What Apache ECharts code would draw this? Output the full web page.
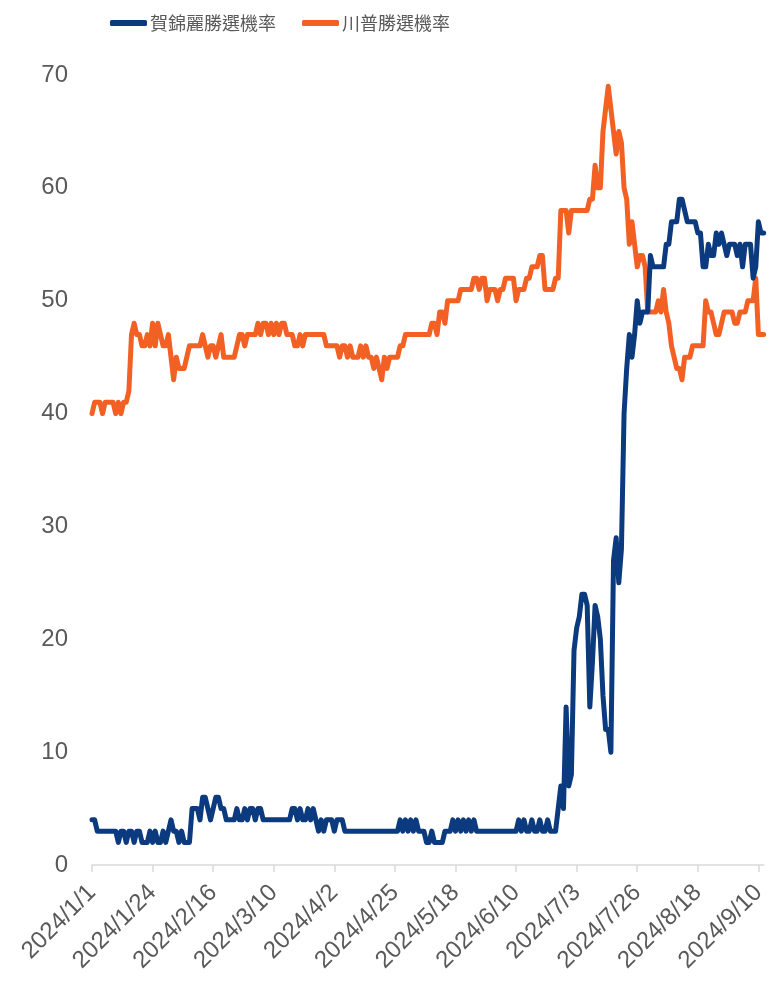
<!DOCTYPE html>
<html>
<head>
<meta charset="utf-8">
<script src="https://cdn.jsdelivr.net/npm/echarts@6/dist/echarts.min.js"></script>
<style>
html,body{margin:0;padding:0;background:#fff;}
#main{width:769px;height:983px;}
</style>
</head>
<body>
<div id="main"></div>
<script>
// Daily dates 2024/1/1 .. 2024/9/12
const startDate = [2024, 1, 1];
const dayCount = 256;
const seriesNames = ['賀錦麗勝選機率', '川普勝選機率'];
const yTicks = [0, 10, 20, 30, 40, 50, 60, 70];

const harris = [
  4,4,3,3,3,3,3,3,3,3,
  2,3,3,2,3,3,2,3,3,2,
  2,2,3,2,3,2,2,3,2,3,
  4,3,3,2,3,2,2,2,5,5,
  5,4,6,6,5,4,5,6,6,5,
  5,4,4,4,4,5,4,4,5,4,
  5,5,4,5,5,4,4,4,4,4,
  4,4,4,4,4,4,5,5,4,5,
  4,4,5,4,5,4,3,4,3,4,
  4,4,3,4,4,4,3,3,3,3,
  3,3,3,3,3,3,3,3,3,3,
  3,3,3,3,3,3,3,4,3,4,
  3,4,3,4,3,3,3,2,2,3,
  2,2,2,2,3,3,3,4,3,4,
  3,4,3,4,3,4,3,3,3,3,
  3,3,3,3,3,3,3,3,3,3,
  3,3,4,3,4,3,3,4,3,3,
  4,3,3,4,3,3,3,5,7,5,
  14,7,8,19,21,22,24,24,23,14,
  18,23,22,20,15,12,12,10,27,29,
  25,28,40,44,47,45,47,50,48,49,
  49,49,54,53,53,53,53,53,55,55,
  57,57,57,59,59,58,57,57,57,57,
  56,56,53,53,55,54,54,56,55,56,
  55,54,55,55,55,54,55,53,55,55,
  55,52,53,57,56,56
];

const trump = [
  40,41,41,41,40,41,41,41,41,40,
  41,40,41,41,42,47,48,47,47,46,
  46,47,46,48,46,48,47,46,46,47,
  45,43,45,44,44,44,45,46,46,46,
  46,46,47,46,45,46,46,45,46,47,
  45,45,45,45,45,46,47,47,46,47,
  47,47,47,48,47,48,48,47,48,47,
  48,47,48,48,47,47,47,46,46,47,
  46,47,47,47,47,47,47,47,47,46,
  46,46,46,46,45,46,46,45,46,45,
  45,45,46,45,46,45,45,44,45,44,
  43,45,44,45,45,45,45,46,46,47,
  47,47,47,47,47,47,47,47,47,48,
  48,47,49,49,48,50,50,50,50,50,
  51,51,51,51,51,52,52,51,52,52,
  50,51,51,51,50,51,51,52,52,52,
  52,50,51,51,51,52,52,53,53,53,
  54,54,51,51,51,51,52,52,58,58,
  58,56,58,58,58,58,58,58,58,59,
  59,62,60,60,65,67,69,67,65,63,
  65,64,60,59,55,57,55,53,54,54,
  53,49,49,49,49,50,49,51,49,48,
  46,45,44,44,43,45,45,45,46,46,
  46,46,46,50,49,49,48,47,47,48,
  49,49,49,49,48,48,49,49,49,50,
  50,50,52,47,47,47
];

const dates = [];
{
  const d0 = new Date(Date.UTC(startDate[0], startDate[1] - 1, startDate[2]));
  for (let i = 0; i < dayCount; i++) {
    const d = new Date(d0.getTime() + i * 86400000);
    dates.push(d.getUTCFullYear() + '/' + (d.getUTCMonth() + 1) + '/' + d.getUTCDate());
  }
}

const blue = '#0B3A7E';
const orange = '#F26024';
const labelColor = '#595959';

const chart = echarts.init(document.getElementById('main'), null, {renderer: 'canvas'});
chart.setOption({
  animation: false,
  backgroundColor: '#ffffff',
  legend: {
    left: 105,
    top: 9,
    itemWidth: 37,
    itemHeight: 6,
    itemGap: 26,
    icon: 'roundRect',
    textStyle: {
      fontFamily: '"Noto Sans CJK TC", sans-serif',
      fontSize: 18,
      color: labelColor,
      padding: [0, 0, 0, -2]
    },
    data: seriesNames
  },
  grid: {left: 92, right: 2, top: 75, bottom: 118, containLabel: false},
  xAxis: {
    type: 'category',
    data: dates,
    boundaryGap: false,
    axisLine: {lineStyle: {color: '#D9D9D9', width: 1.5}},
    axisTick: {show: true, interval: 22, length: 7, lineStyle: {color: '#D9D9D9', width: 1.5}},
    axisLabel: {
      interval: 22,
      rotate: 45,
      margin: 24,
      fontFamily: '"Liberation Sans", Arial, sans-serif',
      fontSize: 24,
      color: labelColor
    },
    splitLine: {show: false}
  },
  yAxis: {
    type: 'value',
    min: yTicks[0],
    max: yTicks[yTicks.length - 1],
    interval: 10,
    axisLine: {show: false},
    axisTick: {show: false},
    splitLine: {show: false},
    axisLabel: {
      margin: 24,
      fontFamily: '"Liberation Sans", Arial, sans-serif',
      fontSize: 24,
      color: labelColor
    }
  },
  series: [
    {
      name: seriesNames[0],
      type: 'line',
      data: harris,
      showSymbol: false,
      symbol: 'none',
      color: blue,
      lineStyle: {width: 5, color: blue, cap: 'round', join: 'round'},
      z: 3
    },
    {
      name: seriesNames[1],
      type: 'line',
      data: trump,
      showSymbol: false,
      symbol: 'none',
      color: orange,
      lineStyle: {width: 5, color: orange, cap: 'round', join: 'round'},
      z: 2
    }
  ]
});
</script>
</body>
</html>
